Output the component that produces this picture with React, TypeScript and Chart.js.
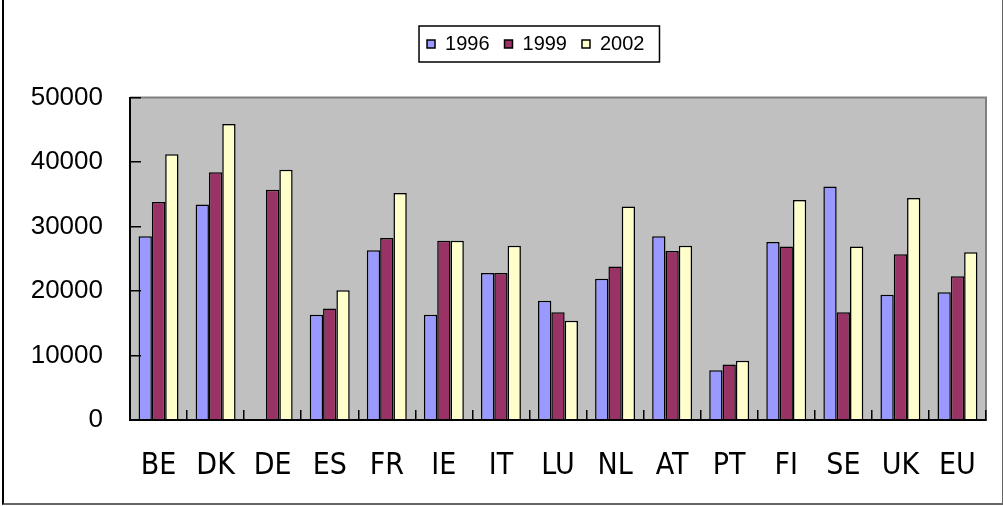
import React, { useEffect, useRef } from 'react';
import { Chart, registerables } from 'chart.js';

Chart.register(...registerables);

const categories = ['BE', 'DK', 'DE', 'ES', 'FR', 'IE', 'IT', 'LU', 'NL', 'AT', 'PT', 'FI', 'SE', 'UK', 'EU'];
const seriesNames = ['1996', '1999', '2002'];
const values1996 = [28500, 33400, null, 16300, 26300, 16300, 22800, 18500, 21900, 28500, 7700, 27600, 36200, 19400, 19800];
const values1999 = [33800, 38400, 35700, 17300, 28200, 27800, 22800, 16700, 23800, 26200, 8600, 26900, 16700, 25700, 22300];
const values2002 = [41200, 45900, 38800, 20100, 35200, 27800, 27000, 15400, 33100, 27000, 9200, 34100, 26900, 34400, 26000];
const yMin = 0;
const yMax = 50000;
const yStep = 10000;

const seriesColors = ['#9999FF', '#993366', '#FFFFCC'];

const framePlugin = {
  id: 'frame',
  afterLayout(chart: any) {
    const lg = chart.legend;
    if (lg) {
      lg.left = lg.left + 85.5;
      lg.width = lg.right - lg.left;
    }
  },
  beforeDraw(chart: any) {
    const { ctx, chartArea: a } = chart;
    ctx.save();
    ctx.fillStyle = '#C0C0C0';
    ctx.fillRect(a.left, a.top, a.right - a.left, a.bottom - a.top);
    ctx.strokeStyle = '#808080';
    ctx.lineWidth = 2;
    ctx.beginPath();
    ctx.moveTo(a.left, a.top);
    ctx.lineTo(a.right, a.top);
    ctx.lineTo(a.right, a.bottom);
    ctx.stroke();
    ctx.restore();
  },
  afterDraw(chart: any) {
    const lg = chart.legend;
    const hb = lg && lg.legendHitBoxes;
    if (!hb || !hb.length) return;
    const { ctx } = chart;
    const first = hb[0];
    const last = hb[hb.length - 1];
    const x1 = first.left - 8;
    const x2 = last.left + last.width + 15;
    const y1 = first.top - 8;
    const y2 = first.top + first.height + 8;
    ctx.save();
    ctx.strokeStyle = '#000';
    ctx.lineWidth = 1.5;
    ctx.strokeRect(x1, y1, x2 - x1, y2 - y1);
    ctx.restore();
  },
};

export default function App() {
  const ref = useRef<HTMLCanvasElement>(null);

  useEffect(() => {
    document.body.style.margin = '0';
    const canvas = ref.current;
    if (!canvas) return;
    const data = [values1996, values1999, values2002];
    const chart = new Chart(canvas, {
      type: 'bar',
      data: {
        labels: categories,
        datasets: seriesNames.map((name, i) => ({
          label: name,
          data: data[i],
          backgroundColor: seriesColors[i],
          borderColor: '#000',
          borderWidth: 1.5,
          barPercentage: 1,
          categoryPercentage: 0.7,
        })),
      },
      options: {
        responsive: false,
        animation: false,
        devicePixelRatio: 1,
        layout: { padding: { top: 19, left: 0, right: 17, bottom: 0 } },
        plugins: {
          legend: {
            position: 'top',
            labels: {
              boxWidth: 8,
              boxHeight: 8,
              padding: 15,
              color: '#000',
              font: { family: "'Liberation Sans', Arial, sans-serif", size: 20 },
            },
          },
          title: {
            display: true,
            text: '',
            weight: 500,
            padding: { top: 23.5, bottom: 0 },
            font: { size: 10, lineHeight: 1 },
          },
          tooltip: { enabled: false },
        },
        scales: {
          x: {
            grid: {
              display: true,
              drawOnChartArea: false,
              drawTicks: true,
              tickLength: -10,
              color: '#000',
              lineWidth: 1.5,
              z: 1,
            },
            border: { display: true, color: '#000', width: 2, z: 2 },
            ticks: {
              color: '#000',
              padding: 18.5,
              maxRotation: 0,
              autoSkip: false,
              font: { family: "'Liberation Sans Narrow', 'Arial Narrow', 'DejaVu Sans Condensed', sans-serif", size: 30, lineHeight: 2.5 },
            },
            afterFit: (scale: any) => {
              scale.height = 86;
            },
          },
          y: {
            min: yMin,
            max: yMax,
            grid: {
              display: true,
              drawOnChartArea: false,
              drawTicks: true,
              tickLength: -11,
              color: '#000',
              lineWidth: 1.5,
              z: 1,
            },
            border: { display: true, color: '#000', width: 2, z: 2 },
            ticks: {
              stepSize: yStep,
              color: '#000',
              padding: 38,
              font: { family: "'Liberation Sans', Arial, sans-serif", size: 26 },
              callback: (v: any) => String(v),
            },
            afterFit: (scale: any) => {
              scale.width = 130;
            },
          },
        },
      },
      plugins: [framePlugin],
    } as any);
    return () => chart.destroy();
  }, []);

  return (
    <div style={{ position: 'absolute', left: 0, top: 0, width: 1003, height: 506, background: '#fff' }}>
      <canvas ref={ref} width={1003} height={506} style={{ display: 'block', width: 1003, height: 506 }} />
      <div
        style={{
          position: 'absolute',
          left: 2,
          top: 0,
          width: 1001,
          height: 505,
          boxSizing: 'border-box',
          borderLeft: '2px solid #000',
          borderRight: '1px solid #666',
          borderBottom: '2px solid #666',
          pointerEvents: 'none',
        }}
      />
    </div>
  );
}
